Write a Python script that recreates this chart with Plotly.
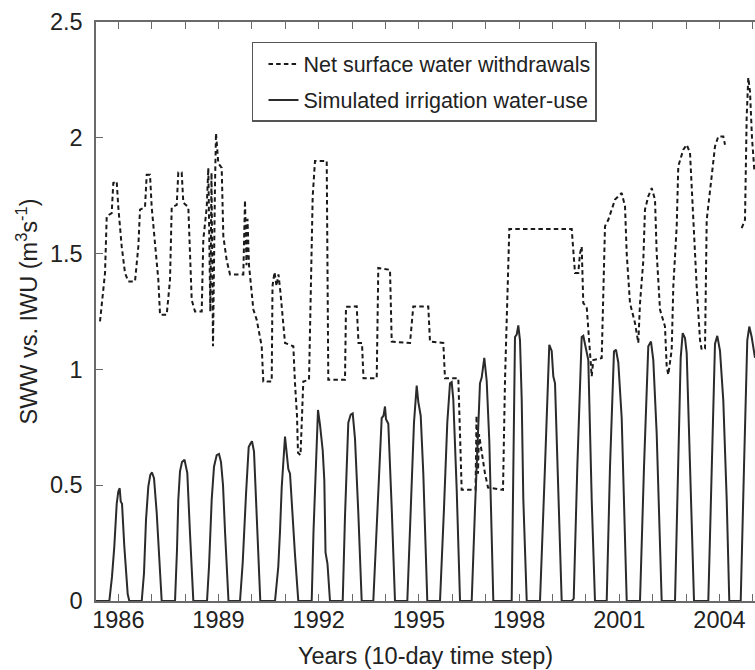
import plotly.graph_objects as go

# Net surface water withdrawals (SWW), m3/s  -- vertices
sww_year = [1985.452, 1985.602, 1985.653, 1985.802, 1985.850, 1985.952, 1986.000, 1986.102, 1986.201, 1986.299,
            1986.500, 1986.599, 1986.650, 1986.799, 1986.850, 1986.949, 1987.000, 1987.099, 1987.198, 1987.249,
            1987.449, 1987.548, 1987.599, 1987.749, 1987.796, 1987.898, 1987.946, 1988.096, 1988.147, 1988.198,
            1988.296, 1988.497, 1988.545, 1988.647, 1988.695, 1988.754, 1988.790, 1988.835, 1988.895, 1988.925,
            1988.994, 1989.096, 1989.144, 1989.246, 1989.344, 1989.743, 1989.793, 1989.838, 1989.868, 1989.913,
            1990.042, 1990.144, 1990.293, 1990.341, 1990.593, 1990.617, 1990.677, 1990.737, 1990.796, 1990.856,
            1990.991, 1991.240, 1991.290, 1991.350, 1991.380, 1991.455, 1991.500, 1991.539, 1991.710, 1991.760,
            1991.820, 1991.889, 1992.240, 1992.287, 1992.787, 1992.817, 1993.138, 1993.192, 1993.296, 1993.341,
            1993.737, 1993.784, 1994.135, 1994.186, 1994.734, 1994.832, 1995.281, 1995.332, 1995.731, 1995.781,
            1996.180, 1996.281, 1996.695, 1996.725, 1996.769, 1996.799, 1996.979, 1997.069, 1997.518, 1997.578,
            1997.647, 1997.707, 1999.575, 1999.623, 1999.674, 1999.772, 1999.823, 1999.874, 1999.922, 2000.024,
            2000.123, 2000.174, 2000.222, 2000.473, 2000.572, 2000.671, 2000.871, 2001.072, 2001.171, 2001.222,
            2001.320, 2001.470, 2001.569, 2001.620, 2001.719, 2001.769, 2001.868, 2001.970, 2002.069, 2002.120,
            2002.219, 2002.368, 2002.419, 2002.467, 2002.569, 2002.617, 2002.719, 2002.766, 2002.916, 2003.018,
            2003.117, 2003.216, 2003.317, 2003.416, 2003.467, 2003.566, 2003.617, 2003.766, 2003.865, 2003.964,
            2004.114, 2004.165, 2004.400, 2004.665, 2004.763, 2004.814, 2004.862, 2004.913, 2004.973, 2005.048]
sww_value = [1.207, 1.416, 1.661, 1.675, 1.805, 1.812, 1.700, 1.530, 1.416, 1.380,
             1.380, 1.530, 1.690, 1.700, 1.840, 1.840, 1.700, 1.530, 1.387, 1.236,
             1.236, 1.387, 1.700, 1.710, 1.850, 1.850, 1.720, 1.700, 1.530, 1.300,
             1.250, 1.250, 1.560, 1.700, 1.870, 1.250, 1.850, 1.100, 1.800, 2.020,
             1.890, 1.870, 1.575, 1.470, 1.410, 1.410, 1.730, 1.450, 1.650, 1.450,
             1.260, 1.214, 1.100, 0.948, 0.948, 1.360, 1.420, 1.360, 1.410, 1.330,
             1.114, 1.100, 0.940, 0.800, 0.640, 0.630, 0.800, 0.948, 0.955, 1.265,
             1.747, 1.900, 1.900, 0.955, 0.955, 1.270, 1.272, 1.114, 1.114, 0.962,
             0.962, 1.438, 1.430, 1.120, 1.114, 1.272, 1.272, 1.120, 1.114, 0.962,
             0.962, 0.480, 0.480, 0.800, 0.550, 0.720, 0.550, 0.490, 0.480, 0.955,
             1.270, 1.606, 1.606, 1.530, 1.416, 1.416, 1.500, 1.530, 1.286, 1.270,
             1.070, 0.970, 1.040, 1.049, 1.618, 1.646, 1.733, 1.762, 1.704, 1.500,
             1.286, 1.200, 1.114, 1.286, 1.470, 1.690, 1.747, 1.783, 1.733, 1.500,
             1.258, 1.185, 1.013, 0.977, 1.085, 1.358, 1.618, 1.877, 1.949, 1.970,
             1.935, 1.618, 1.358, 1.128, 1.085, 1.090, 1.646, 1.834, 1.963, 2.006,
             2.006, 1.970, None, 1.610, 1.646, 2.090, 2.260, 2.200, 2.000, 1.850]

# Simulated irrigation water-use (IWU), m3/s -- vertices
iwu_year = [1985.332,
            1985.731, 1985.811, 1985.880, 1985.952, 1986.000, 1986.042, 1986.072, 1986.111, 1986.180, 1986.281, 1986.329,
            1986.701, 1986.769, 1986.829, 1986.898, 1986.958, 1987.009, 1987.069, 1987.150, 1987.299,
            1987.698, 1987.757, 1987.796, 1987.847, 1987.907, 1987.982, 1988.066, 1988.147, 1988.246,
            1988.656, 1988.716, 1988.796, 1988.865, 1988.946, 1989.015, 1989.075, 1989.135, 1989.195, 1989.299,
            1989.644, 1989.725, 1989.823, 1989.904, 1989.958, 1990.003, 1990.063, 1990.144, 1990.251,
            1990.692, 1990.790, 1990.841, 1990.892, 1990.991, 1991.036, 1991.090, 1991.141, 1991.201, 1991.290, 1991.389,
            1991.790, 1991.844, 1991.919, 1991.979, 1992.039, 1992.120, 1992.168, 1992.204, 1992.263, 1992.338,
            1992.719, 1992.787, 1992.886, 1992.958, 1993.018, 1993.087, 1993.186, 1993.287,
            1993.635, 1993.754, 1993.886, 1993.940, 1993.985, 1994.015, 1994.084, 1994.186, 1994.284,
            1994.653, 1994.754, 1994.853, 1994.934, 1994.982, 1995.054, 1995.132, 1995.251,
            1995.632, 1995.751, 1995.850, 1995.931, 1995.982, 1996.030, 1996.132, 1996.231,
            1996.581, 1996.680, 1996.769, 1996.829, 1996.880, 1996.958, 1997.030, 1997.108, 1997.228,
            1997.778, 1997.877, 1997.928, 1997.976, 1998.027, 1998.078, 1998.126, 1998.228,
            1998.626, 1998.775, 1998.904, 1998.976, 1999.024, 1999.075, 1999.174, 1999.275,
            1999.575, 1999.635, 1999.743, 1999.874, 1999.922, 2000.003, 2000.072, 2000.174, 2000.272,
            2000.623, 2000.722, 2000.841, 2000.901, 2000.970, 2001.072, 2001.222,
            2001.620, 2001.740, 2001.868, 2001.949, 2002.018, 2002.120, 2002.269,
            2002.668, 2002.766, 2002.838, 2002.898, 2002.967, 2003.018, 2003.117, 2003.237,
            2003.665, 2003.766, 2003.865, 2003.934, 2004.015, 2004.114, 2004.216, 2004.293,
            2004.635, 2004.734, 2004.832, 2004.892, 2004.964, 2005.063]
iwu_value = [0.0,
             0.0, 0.105, 0.235, 0.420, 0.473, 0.487, 0.430, 0.420, 0.235, 0.030, 0.0,
             0.0, 0.120, 0.350, 0.494, 0.545, 0.555, 0.530, 0.380, 0.0,
             0.0, 0.220, 0.437, 0.560, 0.600, 0.610, 0.552, 0.290, 0.0,
             0.0, 0.150, 0.437, 0.580, 0.630, 0.635, 0.600, 0.500, 0.300, 0.0,
             0.0, 0.166, 0.460, 0.665, 0.680, 0.690, 0.645, 0.355, 0.0,
             0.0, 0.148, 0.300, 0.490, 0.710, 0.640, 0.570, 0.550, 0.400, 0.200, 0.0,
             0.0, 0.300, 0.620, 0.825, 0.760, 0.650, 0.520, 0.210, 0.160, 0.0,
             0.0, 0.365, 0.770, 0.805, 0.810, 0.700, 0.380, 0.0,
             0.0, 0.380, 0.790, 0.800, 0.840, 0.785, 0.765, 0.400, 0.0,
             0.0, 0.400, 0.770, 0.930, 0.860, 0.800, 0.550, 0.0,
             0.0, 0.400, 0.770, 0.940, 0.945, 0.870, 0.480, 0.0,
             0.0, 0.400, 0.780, 0.940, 0.965, 1.050, 0.950, 0.690, 0.0,
             0.0, 1.140, 1.150, 1.190, 1.125, 0.870, 0.440, 0.0,
             0.0, 0.580, 1.106, 1.080, 0.970, 0.940, 0.437, 0.0,
             0.0, 0.010, 0.580, 1.140, 1.145, 1.080, 1.040, 0.437, 0.0,
             0.0, 0.580, 1.077, 1.085, 1.030, 0.790, 0.0,
             0.0, 0.580, 1.100, 1.120, 1.040, 0.720, 0.0,
             0.0, 0.580, 1.050, 1.157, 1.135, 1.070, 0.580, 0.0,
             0.0, 0.580, 1.110, 1.145, 1.080, 0.865, 0.437, 0.0,
             0.0, 0.580, 1.125, 1.185, 1.140, 1.050]

x_range = [1985.332, 2005.063]
y_range = [0, 2.5]
x_tick_vals = [1986, 1989, 1992, 1995, 1998, 2001, 2004]
x_tick_text = ["1986", "1989", "1992", "1995", "1998", "2001", "2004"]
y_tick_vals = [0, 0.5, 1, 1.5, 2, 2.5]
y_tick_text = ["0", "0.5", "1", "1.5", "2", "2.5"]

FONT = "Liberation Sans, Arial, sans-serif"
AX = "#6a6a6a"
FS = 23.5

fig = go.Figure()
fig.add_trace(go.Scatter(x=sww_year, y=sww_value, mode="lines",
                         name="Net surface water withdrawals", legendgroup="sww",
                         line=dict(color="#1a1a1a", width=2, dash="4.5px,3.2px"),
                         connectgaps=False))
fig.add_trace(go.Scatter(x=iwu_year, y=iwu_value, mode="lines",
                         name="Simulated irrigation water-use", legendgroup="iwu",
                         line=dict(color="#2b2b2b", width=2)))

fig.update_layout(
    width=755, height=670,
    margin=dict(l=96, r=0, t=22, b=69, autoexpand=False),
    paper_bgcolor="white", plot_bgcolor="white",
    font=dict(family=FONT, size=FS, color="#222"),
    showlegend=True,
    legend=dict(x=0.2367, y=0.9655, xanchor="left", yanchor="top",
                bgcolor="white", bordercolor="#555", borderwidth=1.5,
                font=dict(family=FONT, size=21.5, color="#222"),
                tracegroupgap=5, indentation=10),
)
fig.update_xaxes(range=x_range, tickmode="array", tickvals=x_tick_vals, ticktext=x_tick_text,
                 ticks="inside", ticklen=7, tickcolor=AX, tickwidth=1.2,
                 minor=dict(dtick=1, tick0=1986, ticks="inside", ticklen=7, tickcolor=AX, tickwidth=1.2, showgrid=False),
                 showline=True, linecolor=AX, linewidth=1.5, mirror="ticks",
                 showgrid=False, zeroline=False, automargin=False,
                 tickfont=dict(size=FS), ticklabelstandoff=-3,
                 title=dict(text="Years (10-day time step)", font=dict(size=FS), standoff=16))
fig.update_yaxes(range=y_range, tickmode="array", tickvals=y_tick_vals, ticktext=y_tick_text,
                 ticks="inside", ticklen=7, tickcolor=AX, tickwidth=1.2,
                 showline=True, linecolor=AX, linewidth=1.5, mirror=False,
                 showgrid=False, zeroline=False, automargin=False,
                 tickfont=dict(size=FS), ticklabelstandoff=7,
                 title=dict(text="SWW vs. IWU (m<sup>3</sup>s<sup>-1</sup>)", font=dict(size=FS), standoff=6))

fig.write_html("out.html",
               config={"displayModeBar": False},
               post_script="document.body.style.margin='0';document.body.style.overflow='hidden';")
